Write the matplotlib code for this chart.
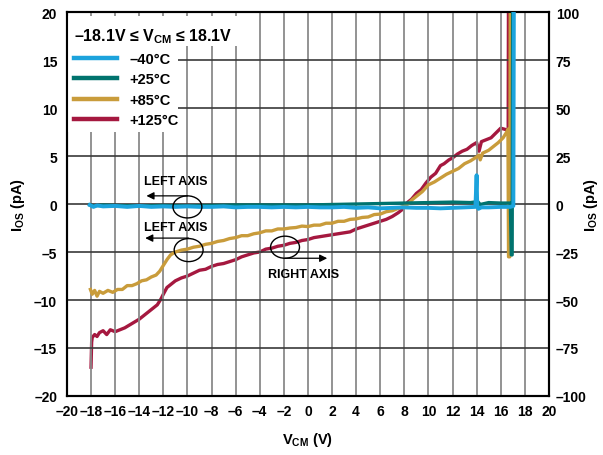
import matplotlib
matplotlib.use("Agg")
import matplotlib.pyplot as plt
from matplotlib.patches import Ellipse, Rectangle

plt.rcParams['font.family'] = ['Liberation Sans', 'DejaVu Sans']
plt.rcParams['font.weight'] = 'bold'
plt.rcParams['mathtext.fontset'] = 'custom'
plt.rcParams['mathtext.rm'] = 'Liberation Sans:bold'
plt.rcParams['mathtext.bf'] = 'Liberation Sans:bold'
plt.rcParams['mathtext.it'] = 'Liberation Sans:bold'

# ---------------- data ----------------
# -40C (left axis, pA)
x_m40 = [-18.1, -17.8, -17.5, -17.0, -16.0, -15.0, -14.0, -13.0, -12.0, -11.0, -10.0, -9.0, -8.0,
         -7.0, -6.0, -5.0, -4.0, -3.0, -2.0, -1.0, 0.0, 1.0, 2.0, 3.0, 4.0, 5.0, 6.0, 7.0, 8.0,
         9.0, 10.0, 11.0, 12.0, 13.0, 13.9, 14.0, 14.05, 14.15, 14.4, 15.0, 16.0, 16.8, 17.05, 17.1]
y_m40 = [-0.1, -0.3, -0.15, -0.25, -0.2, -0.3, -0.2, -0.3, -0.25, -0.3, -0.25, -0.3, -0.3,
         -0.25, -0.35, -0.3, -0.3, -0.35, -0.3, -0.35, -0.3, -0.35, -0.35, -0.3, -0.4, -0.35, -0.45, -0.4, -0.35,
         -0.4, -0.4, -0.45, -0.4, -0.35, -0.3, 3.0, -0.2, -0.5, -0.35, -0.35, -0.3, -0.3, -0.2, 25.0]

# +25C (left axis, pA)
x_25 = [-18.1, -17.8, -17.0, -16.0, -14.0, -12.0, -10.0, -8.0, -6.0, -4.0, -2.0, 0.0, 2.0, 4.0,
        6.0, 8.0, 10.0, 12.0, 13.5, 14.1, 14.3, 15.0, 16.0, 16.8, 16.88, 16.95, 17.0]
y_25 = [-0.1, -0.2, -0.1, -0.15, -0.2, -0.15, -0.2, -0.15, -0.1, -0.1, -0.1, -0.1, -0.05, 0.0,
        0.05, 0.1, 0.15, 0.2, 0.15, 0.25, -0.05, 0.15, 0.1, 0.1, -5.3, -5.3, 25.0]

# +85C (left axis, pA)
x_85 = [-18.05, -17.9, -17.7, -17.5, -17.3, -17.0, -16.6, -16.2, -15.8, -15.4, -15.0, -14.6, -14.2,
        -13.8, -13.4, -13.0, -12.6, -12.3, -12.0, -11.7, -11.4, -11.0, -10.5, -10.0, -9.5, -9.0,
        -8.5, -8.0, -7.5, -7.0, -6.5, -6.0, -5.5, -5.0, -4.5, -4.0, -3.5, -3.0, -2.5, -2.0, -1.5,
        -1.0, -0.5, 0.0, 0.5, 1.0, 1.5, 2.0, 2.5, 3.0, 3.5, 4.0, 4.5, 5.0, 5.5, 6.0, 6.5, 7.0,
        7.5, 8.0, 8.3, 8.7, 9.1, 9.5, 10.0, 10.5, 11.0, 11.5, 12.0, 12.5, 13.0, 13.5, 14.0, 14.2,
        14.3, 14.5, 15.0, 15.4, 15.8, 16.2, 16.5, 16.6, 16.65, 16.75, 16.8]
y_85 = [-8.9, -9.4, -9.0, -9.6, -9.1, -9.3, -9.0, -9.2, -8.9, -8.9, -8.5, -8.5, -8.3,
        -8.0, -7.9, -7.6, -7.4, -7.0, -6.4, -5.8, -5.3, -5.0, -4.8, -4.7, -4.5, -4.4,
        -4.2, -4.1, -3.9, -3.8, -3.6, -3.5, -3.3, -3.3, -3.1, -3.0, -2.8, -2.8, -2.6, -2.6, -2.5,
        -2.45, -2.3, -2.35, -2.2, -2.2, -2.0, -2.0, -1.8, -1.8, -1.6, -1.55, -1.4, -1.35, -1.1, -1.05, -0.8, -0.7,
        -0.45, -0.2, 0.0, 0.5, 0.9, 1.3, 2.0, 2.3, 2.7, 3.1, 3.4, 3.7, 4.2, 4.5, 4.9, 5.1,
        4.6, 5.3, 5.6, 6.0, 6.4, 6.9, 7.5, 7.8, -5.5, -5.5, 25.0]

# +125C (right axis, pA)
x_125 = [-18.0, -17.95, -17.9, -17.7, -17.5, -17.3, -17.0, -16.7, -16.4, -16.0, -15.6, -15.2, -14.8,
         -14.4, -14.0, -13.5, -13.0, -12.5, -12.2, -12.0, -11.7, -11.3, -11.0, -10.5, -10.0, -9.5,
         -9.0, -8.5, -8.0, -7.5, -7.0, -6.5, -6.0, -5.5, -5.0, -4.5, -4.0, -3.5, -3.0, -2.5, -2.0,
         -1.5, -1.0, -0.5, 0.0, 0.5, 1.0, 1.5, 2.0, 2.5, 3.0, 3.5, 4.0, 4.5, 5.0, 5.5, 6.0, 6.5,
         7.0, 7.5, 7.8, 8.0, 8.3, 8.6, 9.0, 9.4, 9.8, 10.2, 10.6, 11.0, 11.3, 11.7, 12.0, 12.4,
         12.8, 13.2, 13.6, 14.0, 14.2, 14.4, 14.8, 15.2, 15.6, 16.0, 16.3, 16.55, 16.62, 16.65]
y_125 = [-85.0, -72.0, -69.5, -68.0, -69.0, -67.0, -66.0, -68.0, -65.5, -66.5, -65.5, -64.5, -63.0,
         -61.5, -60.0, -57.5, -55.0, -52.5, -49.5, -47.0, -43.5, -41.5, -40.0, -38.5, -37.5, -36.0,
         -34.5, -34.0, -32.5, -31.5, -31.0, -30.0, -29.0, -27.5, -26.5, -25.5, -25.0, -23.5, -23.0, -22.0, -21.5,
         -20.5, -20.0, -19.0, -18.5, -17.5, -17.0, -16.5, -16.0, -15.5, -15.0, -14.5, -13.0, -12.0, -11.0, -10.0, -9.0, -8.0,
         -6.5, -4.5, -3.0, -1.0, 1.0, 2.5, 5.5, 7.5, 11.0, 14.0, 16.0, 20.0, 21.0, 23.0, 24.0, 26.0,
         27.5, 28.5, 30.5, 32.0, 27.5, 32.5, 33.5, 34.5, 37.0, 39.5, 39.0, 38.5, 38.0, 125.0]

labels = ['\u201340\u00b0C', '+25\u00b0C', '+85\u00b0C', '+125\u00b0C']
colors = ['#1CA3DC', '#00736E', '#C99C3B', '#A5183F']

xticks = list(range(-20, 21, 2))
xticklabels = ['\u201320', '\u201318', '\u201316', '\u201314', '\u201312', '\u201310', '\u20138', '\u20136',
               '\u20134', '\u20132', '0', '2', '4', '6', '8', '10', '12', '14', '16', '18', '20']
yticks_left = list(range(-20, 21, 5))
yticklabels_left = ['\u201320', '\u201315', '\u201310', '\u20135', '0', '5', '10', '15', '20']
yticks_right = list(range(-100, 101, 25))
yticklabels_right = ['\u2013100', '\u201375', '\u201350', '\u201325', '0', '25', '50', '75', '100']

# ---------------- figure ----------------
fig = plt.figure(figsize=(6.03, 4.56), dpi=100)
ax = fig.add_axes([0.111, 0.1294, 0.7993, 0.842])
ax2 = ax.twinx()

ax.set_xlim(-20, 20)
ax.set_ylim(-20, 20)
ax2.set_ylim(-100, 100)

ax.set_xticks(xticks)
ax.set_xticklabels(xticklabels)
ax.set_yticks(yticks_left)
ax.set_yticklabels(yticklabels_left)
ax2.set_yticks(yticks_right)
ax2.set_yticklabels(yticklabels_right)

for a in (ax, ax2):
    a.tick_params(length=0, labelsize=10)
    for s in a.spines.values():
        s.set_linewidth(1.5)
        s.set_color('black')
ax.tick_params(axis='y', pad=7)
ax.tick_params(axis='x', pad=6)
ax2.tick_params(axis='y', pad=5)

# grid
for xv in xticks[1:-1]:
    ax.axvline(xv, color='#8a8a8a', lw=1.3, zorder=0.5)
for yv in yticks_left[1:-1]:
    ax.axhline(yv, color='#3a3a3a', lw=1.2, zorder=0.5)

# white boxes behind legend
ax.add_patch(Rectangle((0.0, 0.911), 0.375, 0.079, transform=ax.transAxes,
                       facecolor='white', edgecolor='none', zorder=0.8))
ax.add_patch(Rectangle((0.0, 0.6875), 0.23, 0.2245, transform=ax.transAxes,
                       facecolor='white', edgecolor='none', zorder=0.8))

l3, = ax.plot(x_85, y_85, color=colors[2], lw=2.4, zorder=2)
l4, = ax2.plot(x_125, y_125, color=colors[3], lw=2.4, zorder=2)
l2, = ax.plot(x_25, y_25, color=colors[1], lw=2.4, zorder=3)
l1, = ax.plot(x_m40, y_m40, color=colors[0], lw=2.8, zorder=4)
ax.set_zorder(ax2.get_zorder() + 1)
ax.patch.set_visible(False)

ax.set_xlabel('V$_{\\mathbf{CM}}$ (V)', fontsize=10.5, fontweight='bold')
ax.xaxis.set_label_coords(0.5, -0.088)
ax.set_ylabel('I$_{\\mathbf{OS}}$ (pA)', fontsize=10.5, fontweight='bold')
ax.yaxis.set_label_coords(-0.082, 0.5)
ax2.set_ylabel('I$_{\\mathbf{OS}}$ (pA)', fontsize=10.5, fontweight='bold', rotation=90)
ax2.yaxis.set_label_coords(1.068, 0.5)

leg = ax.legend([l1, l2, l3, l4], labels, loc='upper left', bbox_to_anchor=(0.005, 0.975),
                frameon=False, fontsize=10.5, handlelength=3.0, handletextpad=0.8,
                labelspacing=0.45, borderaxespad=0.0, borderpad=0.3,
                title='\u201318.1V \u2264 V$_{\\mathbf{CM}}$ \u2264 18.1V',
                title_fontproperties={'size': 11.5, 'weight': 'bold'}, alignment='left')
leg._legend_box.sep = 5
for h in leg.legend_handles:
    h.set_linewidth(3.2)
leg.set_zorder(10)

# annotations
def ell(cx, cy, w, h):
    ax.add_patch(Ellipse((cx, cy), w, h, facecolor='none', edgecolor='black', lw=1.0, zorder=6))

ell(-10.0, -0.3, 2.4, 2.3)
ax.annotate('', xy=(-13.4, 0.85), xytext=(-10.0, 0.85),
            arrowprops=dict(arrowstyle='-|>', lw=0.9, color='black', mutation_scale=11, shrinkA=0, shrinkB=0),
            zorder=6)
ax.text(-11.0, 2.4, 'LEFT AXIS', ha='center', va='center', fontsize=9, fontweight='bold', zorder=6)

ell(-9.9, -4.8, 2.4, 2.4)
ax.annotate('', xy=(-13.5, -3.55), xytext=(-9.9, -3.55),
            arrowprops=dict(arrowstyle='-|>', lw=0.9, color='black', mutation_scale=11, shrinkA=0, shrinkB=0),
            zorder=6)
ax.text(-10.95, -2.4, 'LEFT AXIS', ha='center', va='center', fontsize=9, fontweight='bold', zorder=6)

ell(-1.9, -4.5, 2.4, 2.3)
ax.annotate('', xy=(1.6, -5.65), xytext=(-1.9, -5.65),
            arrowprops=dict(arrowstyle='-|>', lw=0.9, color='black', mutation_scale=11, shrinkA=0, shrinkB=0),
            zorder=6)
ax.text(-0.4, -7.3, 'RIGHT AXIS', ha='center', va='center', fontsize=9, fontweight='bold', zorder=6)

fig.savefig('out.png', dpi=100)
